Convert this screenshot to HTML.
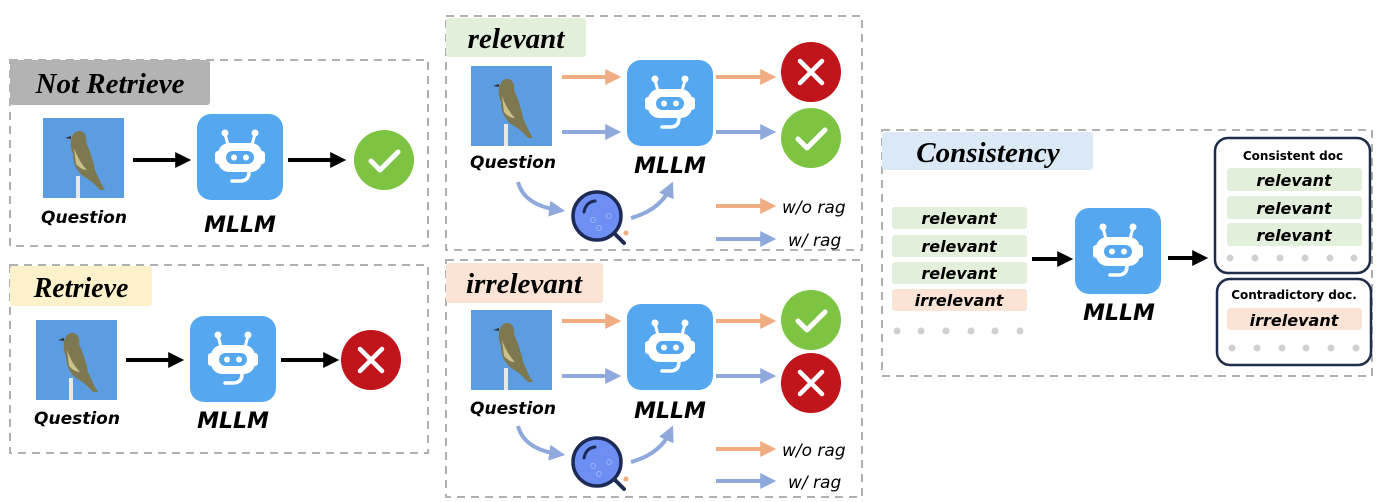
<!DOCTYPE html>
<html><head><meta charset="utf-8">
<style>
html,body{margin:0;padding:0;background:#fff;}
svg{display:block;}
.lbl{font-family:"Liberation Serif",serif;font-weight:bold;font-style:italic;}
.sn{font-family:"DejaVu Sans","Liberation Sans",sans-serif;font-weight:bold;font-style:italic;}
.nl{font-family:"DejaVu Sans","Liberation Sans",sans-serif;font-style:italic;}
</style></head><body>
<svg width="1380" height="502" viewBox="0 0 1380 502" xmlns="http://www.w3.org/2000/svg">
<defs>
<marker id="mk" markerWidth="4" markerHeight="4" refX="2.2" refY="2" orient="auto" markerUnits="strokeWidth"><path d="M0,0 L4,2 L0,4 z" fill="#000"/></marker>
<marker id="mo" markerWidth="4" markerHeight="4" refX="2.2" refY="2" orient="auto" markerUnits="strokeWidth"><path d="M0,0 L4,2 L0,4 z" fill="#f0ad82"/></marker>
<marker id="mb" markerWidth="4" markerHeight="4" refX="2.2" refY="2" orient="auto" markerUnits="strokeWidth"><path d="M0,0 L4,2 L0,4 z" fill="#8fa9dc"/></marker>
<g id="robot">
<rect x="0" y="0" width="86" height="86" rx="14" fill="#55a8ef"/>
<line x1="31" y1="31" x2="28" y2="20" stroke="#fff" stroke-width="3"/>
<line x1="55" y1="31" x2="58" y2="20" stroke="#fff" stroke-width="3"/>
<circle cx="28" cy="19" r="3.5" fill="#fff"/><circle cx="58" cy="19" r="3.5" fill="#fff"/>
<rect x="21" y="29" width="44" height="29" rx="11" fill="#fff"/>
<rect x="18" y="37" width="6" height="13" rx="3" fill="#fff"/><rect x="62" y="37" width="6" height="13" rx="3" fill="#fff"/>
<rect x="29" y="37" width="28" height="13" rx="6.5" fill="#55a8ef"/>
<circle cx="37" cy="43.5" r="3" fill="#fff"/><circle cx="49" cy="43.5" r="3" fill="#fff"/>
<path d="M52,58 Q52,67 43,67 L35,67" fill="none" stroke="#fff" stroke-width="3.5" stroke-linecap="round"/>
</g>
<g id="bird">
<rect x="0" y="0" width="81" height="80" fill="#5b9de0"/>
<rect x="33" y="58" width="4" height="22" fill="#e8e8e8"/>
<path d="M28,22 Q30,12 38,13 Q44,15 43,24 Q50,40 52,52 Q58,66 62,72 L57,72 Q48,62 40,58 Q30,50 30,36 Q27,30 28,22z" fill="#7e7850"/>
<path d="M31,30 Q36,44 44,52 Q38,52 33,46z" fill="#c9c08a"/>
<path d="M28,18 L22,20 L28,21z" fill="#333"/>
</g>
<g id="check"><circle r="30" fill="#7dc443"/><polyline points="-13,1 -4,10 14,-8" fill="none" stroke="#fff" stroke-width="5" stroke-linecap="round" stroke-linejoin="round"/></g>
<g id="cross"><circle r="30" fill="#c0151a"/><path d="M-11,-11 L11,11 M11,-11 L-11,11" stroke="#fff" stroke-width="4.5" stroke-linecap="round"/></g>
<g id="mag">
<circle cx="0" cy="0" r="24" fill="#6d8ef2" stroke="#1e2a56" stroke-width="3.5"/>
<line x1="17" y1="17" x2="27" y2="27" stroke="#1e2a56" stroke-width="4" stroke-linecap="round"/>
<path d="M-13,-4 Q-11,-14 -2,-15" fill="none" stroke="#1e2a56" stroke-width="3" stroke-linecap="round"/>
<circle cx="-4" cy="4" r="2.5" fill="none" stroke="#9fb4f8"/><circle cx="12" cy="0" r="2.5" fill="none" stroke="#9fb4f8"/><circle cx="2" cy="12" r="2.5" fill="none" stroke="#9fb4f8"/>
<circle cx="29" cy="17" r="2.5" fill="#f0ad82"/>
</g>
</defs>

<g fill="none" stroke="#b0b0b0" stroke-width="2" stroke-dasharray="8,6">
<rect x="10" y="60" width="418" height="186"/>
<rect x="10" y="265" width="418" height="188"/>
<rect x="446" y="16" width="416" height="234"/>
<rect x="446" y="260" width="416" height="237"/>
<rect x="882" y="130" width="490" height="246"/>
</g>

<!-- Not Retrieve -->
<rect x="10" y="60" width="200" height="45" rx="3" fill="#b3b3b3"/>
<text x="110" y="93" class="lbl" font-size="29" text-anchor="middle">Not Retrieve</text>
<use href="#bird" x="43" y="118"/>
<line x1="133" y1="160" x2="184" y2="160" stroke="#000" stroke-width="4" marker-end="url(#mk)"/>
<use href="#robot" x="197" y="114"/>
<line x1="288" y1="160" x2="339" y2="160" stroke="#000" stroke-width="4" marker-end="url(#mk)"/>
<use href="#check" x="384" y="160"/>
<text x="84" y="223" class="sn" font-size="17" text-anchor="middle">Question</text>
<text x="240" y="232" class="sn" font-size="22" text-anchor="middle">MLLM</text>

<!-- Retrieve -->
<rect x="10" y="266" width="142" height="40" rx="3" fill="#fdf1cc"/>
<text x="81" y="297" class="lbl" font-size="28" text-anchor="middle">Retrieve</text>
<use href="#bird" x="36" y="320"/>
<line x1="126" y1="360" x2="177" y2="360" stroke="#000" stroke-width="4" marker-end="url(#mk)"/>
<use href="#robot" x="190" y="316"/>
<line x1="281" y1="360" x2="332" y2="360" stroke="#000" stroke-width="4" marker-end="url(#mk)"/>
<use href="#cross" x="371" y="360"/>
<text x="77" y="424" class="sn" font-size="17" text-anchor="middle">Question</text>
<text x="233" y="428" class="sn" font-size="22" text-anchor="middle">MLLM</text>

<!-- relevant -->
<rect x="446" y="18" width="140" height="39" rx="3" fill="#e2efda"/>
<text x="516" y="48" class="lbl" font-size="29" text-anchor="middle">relevant</text>
<use href="#bird" x="471" y="66"/>
<line x1="562" y1="77" x2="614" y2="77" stroke="#f0ad82" stroke-width="4" marker-end="url(#mo)"/>
<line x1="562" y1="132" x2="614" y2="132" stroke="#8fa9dc" stroke-width="4" marker-end="url(#mb)"/>
<use href="#robot" x="627" y="60"/>
<line x1="716" y1="77" x2="769" y2="77" stroke="#f0ad82" stroke-width="4" marker-end="url(#mo)"/>
<line x1="716" y1="132" x2="769" y2="132" stroke="#8fa9dc" stroke-width="4" marker-end="url(#mb)"/>
<use href="#cross" x="811" y="72"/>
<use href="#check" x="811" y="138"/>
<text x="513" y="168" class="sn" font-size="17" text-anchor="middle">Question</text>
<text x="670" y="173" class="sn" font-size="22" text-anchor="middle">MLLM</text>
<path d="M518,182 Q524,205 558,210" fill="none" stroke="#8fa9dc" stroke-width="4" marker-end="url(#mb)"/>
<use href="#mag" x="597" y="216"/>
<path d="M631,218 Q660,210 670,188" fill="none" stroke="#8fa9dc" stroke-width="4" marker-end="url(#mb)"/>
<line x1="716" y1="206" x2="769" y2="206" stroke="#f0ad82" stroke-width="4" marker-end="url(#mo)"/>
<line x1="716" y1="239" x2="769" y2="239" stroke="#8fa9dc" stroke-width="4" marker-end="url(#mb)"/>
<text x="782" y="213" class="nl" font-size="17">w/o rag</text>
<text x="788" y="246" class="nl" font-size="17">w/ rag</text>

<!-- irrelevant -->
<rect x="446" y="263" width="157" height="40" rx="3" fill="#fbe3d6"/>
<text x="524" y="293" class="lbl" font-size="29" text-anchor="middle">irrelevant</text>
<use href="#bird" x="471" y="310"/>
<line x1="562" y1="321" x2="614" y2="321" stroke="#f0ad82" stroke-width="4" marker-end="url(#mo)"/>
<line x1="562" y1="376" x2="614" y2="376" stroke="#8fa9dc" stroke-width="4" marker-end="url(#mb)"/>
<use href="#robot" x="627" y="304"/>
<line x1="716" y1="321" x2="769" y2="321" stroke="#f0ad82" stroke-width="4" marker-end="url(#mo)"/>
<line x1="716" y1="376" x2="769" y2="376" stroke="#8fa9dc" stroke-width="4" marker-end="url(#mb)"/>
<use href="#check" x="811" y="320"/>
<use href="#cross" x="811" y="383"/>
<text x="513" y="414" class="sn" font-size="17" text-anchor="middle">Question</text>
<text x="670" y="418" class="sn" font-size="22" text-anchor="middle">MLLM</text>
<path d="M518,426 Q524,449 558,454" fill="none" stroke="#8fa9dc" stroke-width="4" marker-end="url(#mb)"/>
<use href="#mag" x="597" y="462"/>
<path d="M631,462 Q660,454 670,432" fill="none" stroke="#8fa9dc" stroke-width="4" marker-end="url(#mb)"/>
<line x1="716" y1="449" x2="769" y2="449" stroke="#f0ad82" stroke-width="4" marker-end="url(#mo)"/>
<line x1="716" y1="481" x2="769" y2="481" stroke="#8fa9dc" stroke-width="4" marker-end="url(#mb)"/>
<text x="782" y="456" class="nl" font-size="17">w/o rag</text>
<text x="788" y="488" class="nl" font-size="17">w/ rag</text>

<!-- Consistency -->
<rect x="882" y="132" width="211" height="38" rx="3" fill="#dbe8f5"/>
<text x="988" y="162" class="lbl" font-size="29" text-anchor="middle">Consistency</text>
<g class="sn" font-size="16" text-anchor="middle">
<rect x="892" y="207" width="135" height="22" rx="3" fill="#e2efda"/><text x="959" y="224">relevant</text>
<rect x="892" y="235" width="135" height="22" rx="3" fill="#e2efda"/><text x="959" y="252">relevant</text>
<rect x="892" y="262" width="135" height="22" rx="3" fill="#e2efda"/><text x="959" y="279">relevant</text>
<rect x="892" y="289" width="135" height="22" rx="3" fill="#fbe3d6"/><text x="959" y="306">irrelevant</text>
</g>
<g fill="#d0d0d0">
<circle cx="897" cy="331" r="3.5"/><circle cx="921" cy="331" r="3.5"/><circle cx="946" cy="331" r="3.5"/><circle cx="971" cy="331" r="3.5"/><circle cx="995" cy="331" r="3.5"/><circle cx="1020" cy="331" r="3.5"/>
</g>
<line x1="1032" y1="259" x2="1066" y2="259" stroke="#000" stroke-width="4" marker-end="url(#mk)"/>
<use href="#robot" x="1075" y="208"/>
<text x="1119" y="320" class="sn" font-size="22" text-anchor="middle">MLLM</text>
<line x1="1168" y1="258" x2="1201" y2="258" stroke="#000" stroke-width="4" marker-end="url(#mk)"/>

<rect x="1215" y="138" width="155" height="135" rx="13" fill="#fff" stroke="#1f2d4a" stroke-width="2.5"/>
<text x="1293" y="160" font-family="DejaVu Sans,Liberation Sans,sans-serif" font-weight="bold" font-size="12" text-anchor="middle">Consistent doc</text>
<g class="sn" font-size="16" text-anchor="middle">
<rect x="1227" y="168" width="135" height="23" rx="3" fill="#e2efda"/><text x="1294" y="186">relevant</text>
<rect x="1227" y="196" width="135" height="23" rx="3" fill="#e2efda"/><text x="1294" y="214">relevant</text>
<rect x="1227" y="223" width="135" height="23" rx="3" fill="#e2efda"/><text x="1294" y="241">relevant</text>
</g>
<g fill="#d0d0d0">
<circle cx="1230" cy="258" r="3.5"/><circle cx="1255" cy="258" r="3.5"/><circle cx="1280" cy="258" r="3.5"/><circle cx="1305" cy="258" r="3.5"/><circle cx="1330" cy="258" r="3.5"/><circle cx="1354" cy="258" r="3.5"/>
</g>
<rect x="1217" y="279" width="154" height="86" rx="13" fill="#fff" stroke="#1f2d4a" stroke-width="2.5"/>
<text x="1294" y="299" font-family="DejaVu Sans,Liberation Sans,sans-serif" font-weight="bold" font-size="12" text-anchor="middle">Contradictory doc.</text>
<rect x="1227" y="308" width="135" height="22" rx="3" fill="#fbe3d6"/>
<text x="1294" y="326" class="sn" font-size="16" text-anchor="middle">irrelevant</text>
<g fill="#d0d0d0">
<circle cx="1232" cy="348" r="3.5"/><circle cx="1257" cy="348" r="3.5"/><circle cx="1282" cy="348" r="3.5"/><circle cx="1306" cy="348" r="3.5"/><circle cx="1331" cy="348" r="3.5"/><circle cx="1356" cy="348" r="3.5"/>
</g>
</svg>
</body></html>
